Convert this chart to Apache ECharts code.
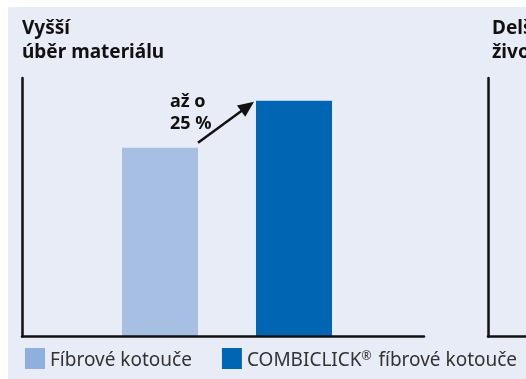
<!DOCTYPE html>
<html>
<head>
<meta charset="utf-8">
<script src="https://cdn.jsdelivr.net/npm/echarts@6/dist/echarts.min.js"></script>
<style>
  html, body { margin: 0; padding: 0; background: #ffffff; }
  #wrap { position: relative; width: 526px; height: 379px; overflow: hidden; }
  #panel { position: absolute; left: 8px; top: 7px; right: 0; bottom: 0; background: #E8ECF7; }
  #chart { position: absolute; left: 0; top: 0; width: 526px; height: 379px; }
</style>
</head>
<body>
<div id="wrap"><div id="panel"></div><div id="chart"></div></div>
<script>
// Disc types compared in the left panel
const categories = ['Fíbrové kotouče', 'COMBICLICK® fíbrové kotouče'];
// Relative material removal (standard fibre disc = 100)
const fibreValues = [100, '-'];
const combiclickValues = ['-', 125];
const gainLabel = 'až o\n25 %';
const panelTitles = ['Vyšší\núběr materiálu', 'Delší\nživotnost'];
const axisMax = 137;

const FONT = '"Noto Sans", "Open Sans", sans-serif';
const LIGHT = '#A6BFE3';
const LIGHT_KEY = '#8FAFDD';
const DARK = '#0066B3';
const INK = '#111111';

const chart = echarts.init(document.getElementById('chart'), null, { renderer: 'canvas' });

const frameAxisX = (gridIndex) => ({
  gridIndex, type: 'category', data: [''],
  axisLine: { show: true, lineStyle: { color: INK, width: 2.5 } },
  axisTick: { show: false }, axisLabel: { show: false }, splitLine: { show: false },
  z: 5
});
const frameAxisY = (gridIndex) => ({
  gridIndex, type: 'value', min: 0, max: axisMax,
  axisLine: { show: true, lineStyle: { color: INK, width: 2.5 } },
  axisTick: { show: false }, axisLabel: { show: false }, splitLine: { show: false },
  z: 5
});

const option = {
  animation: false,
  backgroundColor: 'transparent',
  title: panelTitles.map((t, i) => ({
    text: t,
    left: i ? 492 : 22,
    top: 17,
    padding: 0,
    textStyle: { fontFamily: FONT, fontSize: 19, fontWeight: 'bold', color: INK, lineHeight: 24 }
  })),
  legend: {
    left: 25, top: 348, padding: 0,
    itemWidth: 20, itemHeight: 21, itemGap: 30,
    icon: 'rect',
    formatter: (name) => name.replace('®', '{sup|®}'),
    textStyle: {
      fontFamily: FONT, fontSize: 19, color: '#333333', padding: [5, 0, 0, 0],
      rich: { sup: { fontFamily: FONT, fontSize: 12, color: '#333333', verticalAlign: 'top', padding: [0, 2, 8, 0] } }
    },
    data: [
      { name: categories[0], itemStyle: { color: LIGHT_KEY } },
      { name: categories[1], itemStyle: { color: DARK } }
    ],
    selectedMode: false
  },
  grid: [
    { left: 22, top: 78, width: 402, height: 258.5 },   // left panel frame
    { left: 93, top: 78, width: 268, height: 258.5 },   // left panel bars
    { left: 488, top: 78, width: 400, height: 258.5 }   // right panel frame
  ],
  xAxis: [
    frameAxisX(0),
    { gridIndex: 1, type: 'category', data: categories, show: false },
    frameAxisX(2)
  ],
  yAxis: [
    frameAxisY(0),
    { gridIndex: 1, type: 'value', min: 0, max: axisMax, show: false },
    frameAxisY(2)
  ],
  series: [
    {
      name: categories[0], type: 'bar', xAxisIndex: 1, yAxisIndex: 1, stack: 'disc',
      data: fibreValues, barWidth: 76, itemStyle: { color: LIGHT }, z: 2
    },
    {
      name: categories[1], type: 'bar', xAxisIndex: 1, yAxisIndex: 1, stack: 'disc',
      data: combiclickValues, barWidth: 76, itemStyle: { color: DARK }, z: 2
    }
  ]
};
chart.setOption(option);

// Arrow from the standard bar up to the COMBICLICK bar, with the gain label
const pA = chart.convertToPixel({ gridIndex: 1 }, [0, fibreValues[0]]);
const pB = chart.convertToPixel({ gridIndex: 1 }, [1, combiclickValues[1]]);
const half = 38;
const start = [pA[0] + half, pA[1] - 5];
const tip = [pB[0] - half - 2, pB[1] + 1];
const dx = tip[0] - start[0], dy = tip[1] - start[1];
const len = Math.sqrt(dx * dx + dy * dy);
const ux = dx / len, uy = dy / len;
const headLen = 16, headW = 7;
const base = [tip[0] - ux * headLen, tip[1] - uy * headLen];
const nx = -uy, ny = ux;

chart.setOption({
  graphic: [
    {
      type: 'line', z: 10,
      shape: { x1: start[0], y1: start[1], x2: base[0] + ux * 2, y2: base[1] + uy * 2 },
      style: { stroke: INK, lineWidth: 2.5 }
    },
    {
      type: 'polygon', z: 10,
      shape: { points: [tip, [base[0] + nx * headW, base[1] + ny * headW], [base[0] - nx * headW, base[1] - ny * headW]] },
      style: { fill: INK }
    },
    {
      type: 'text', z: 10,
      x: pA[0] + 10, y: pA[1] - 57,
      style: {
        text: gainLabel, fill: INK, font: 'bold 18px ' + FONT,
        lineHeight: 22, textAlign: 'left', textVerticalAlign: 'top'
      }
    }
  ]
});
</script>
</body>
</html>
